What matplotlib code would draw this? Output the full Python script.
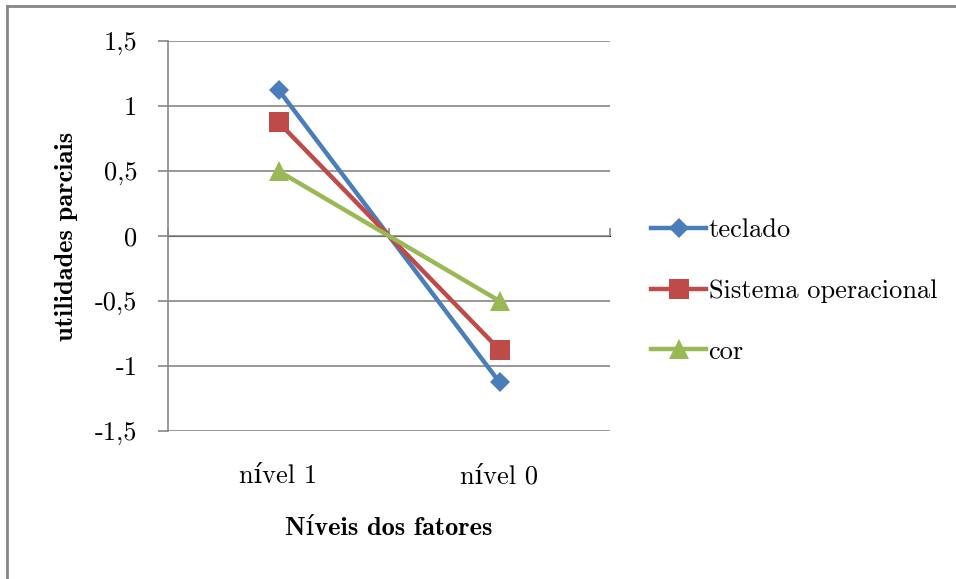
import matplotlib
matplotlib.use("Agg")
import matplotlib.pyplot as plt
from matplotlib.lines import Line2D

# utilidades parciais por nível de cada fator
levels = ["nível 1", "nível 0"]
teclado = [1.125, -1.125]
sistema = [0.875, -0.875]
cor = [0.5, -0.5]
series_names = ["teclado", "Sistema operacional", "cor"]
yticks = [-1.5, -1.0, -0.5, 0.0, 0.5, 1.0, 1.5]
ytick_labels = ["-1,5", "-1", "-0,5", "0", "0,5", "1", "1,5"]

ROMAN = ["cmr10", "DejaVu Serif"]
BOLD = ["cmb10", "DejaVu Serif"]
GRAY = "#868686"
FS = 19

fig = plt.figure(figsize=(9.56, 5.79), dpi=100)
ax = fig.add_axes([168 / 956, 1 - 431 / 579, 442 / 956, 390 / 579])

styles = [
    dict(color="#4A7EBB", marker="D", ms=10),
    dict(color="#BE4B48", marker="s", ms=14),
    dict(color="#98B954", marker="^", ms=14),
]
x = list(range(len(levels)))
for vals, name, st in zip([teclado, sistema, cor], series_names, styles):
    ax.plot(x, vals, lw=3.2, solid_capstyle="butt", zorder=3, label=name,
            color=st["color"], marker=st["marker"], markersize=st["ms"],
            markeredgewidth=0)

ax.set_xlim(-0.5, 1.5)
ax.set_ylim(-1.5, 1.5)

# horizontal grid
ax.set_yticks(yticks)
ax.set_yticklabels(ytick_labels, family=ROMAN, fontsize=FS)
ax.yaxis.grid(True, color=GRAY, lw=1.2)
ax.tick_params(axis="y", direction="out", length=7, width=1.2, color=GRAY, pad=15)

ax.set_xticks(x)
ax.set_xticklabels(levels, family=ROMAN, fontsize=FS)
ax.tick_params(axis="x", length=0, pad=24)

for side in ["top", "right", "bottom"]:
    ax.spines[side].set_visible(False)
ax.spines["left"].set_color(GRAY)
ax.spines["left"].set_linewidth(1.2)

# category axis crossing at zero
zero_axis = ax.secondary_xaxis(0.5)
zero_axis.set_xticks([-0.5, 0.5, 1.5])
zero_axis.set_xticklabels([])
zero_axis.tick_params(direction="out", length=6, width=1.2, color=GRAY)
zero_axis.spines["bottom"].set_color(GRAY)
zero_axis.spines["bottom"].set_linewidth(1.2)

ax.set_xlabel("Níveis dos fatores", family=BOLD, fontsize=FS, labelpad=21)
ax.set_ylabel("utilidades parciais", family=BOLD, fontsize=FS, labelpad=12)

handles = [Line2D([], [], lw=3.2, color=st["color"], marker=st["marker"],
                  markersize=st["ms"], markeredgewidth=0) for st in styles]
fig.legend(handles, series_names, loc="center left",
           bbox_to_anchor=(651 / 956, 1 - 291 / 579), frameon=False,
           prop={"family": ROMAN, "size": FS}, handlelength=2.1,
           handletextpad=0.08, labelspacing=1.4, borderpad=0,
           borderaxespad=0)

# chart area border (top and left edges)
fig.add_artist(Line2D([7 / 956, 1], [1 - 6 / 579, 1 - 6 / 579], color=GRAY, lw=2))
fig.add_artist(Line2D([7 / 956, 7 / 956], [0, 1 - 6 / 579], color=GRAY, lw=2))

fig.savefig("out.png", dpi=100)
